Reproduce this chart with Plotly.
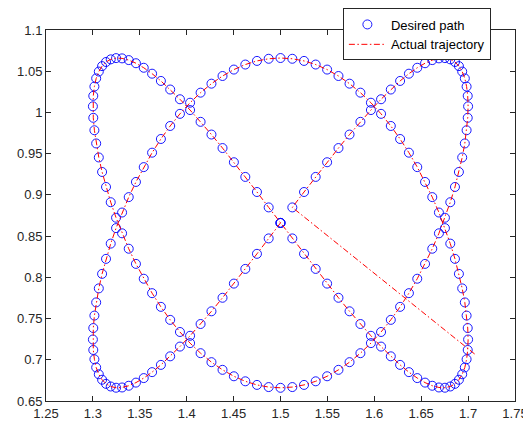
import plotly.graph_objects as go

# Desired path samples
desired_x = [
    1.5000, 1.5126, 1.5251, 1.5375, 1.5497, 1.5618, 1.5736, 1.5852, 1.5964, 1.6072,
    1.6176, 1.6275, 1.6369, 1.6458, 1.6541, 1.6618, 1.6689, 1.6753, 1.6810, 1.6860,
    1.6902, 1.6937, 1.6965, 1.6984, 1.6996, 1.7000, 1.6996, 1.6984, 1.6965, 1.6937,
    1.6902, 1.6860, 1.6810, 1.6753, 1.6689, 1.6618, 1.6541, 1.6458, 1.6369, 1.6275,
    1.6176, 1.6072, 1.5964, 1.5852, 1.5736, 1.5618, 1.5497, 1.5375, 1.5251, 1.5126,
    1.5000, 1.4874, 1.4749, 1.4625, 1.4503, 1.4382, 1.4264, 1.4148, 1.4036, 1.3928,
    1.3824, 1.3725, 1.3631, 1.3542, 1.3459, 1.3382, 1.3311, 1.3247, 1.3190, 1.3140,
    1.3098, 1.3063, 1.3035, 1.3016, 1.3004, 1.3000, 1.3004, 1.3016, 1.3035, 1.3063,
    1.3098, 1.3140, 1.3190, 1.3247, 1.3311, 1.3382, 1.3459, 1.3542, 1.3631, 1.3725,
    1.3824, 1.3928, 1.4036, 1.4148, 1.4264, 1.4382, 1.4503, 1.4625, 1.4749, 1.4874,
    1.5000, 1.5126, 1.5251, 1.5375, 1.5497, 1.5618, 1.5736, 1.5852, 1.5964, 1.6072,
    1.6176, 1.6275, 1.6369, 1.6458, 1.6541, 1.6618, 1.6689, 1.6753, 1.6810, 1.6860,
    1.6902, 1.6937, 1.6965, 1.6984, 1.6996, 1.7000, 1.6996, 1.6984, 1.6965, 1.6937,
    1.6902, 1.6860, 1.6810, 1.6753, 1.6689, 1.6618, 1.6541, 1.6458, 1.6369, 1.6275,
    1.6176, 1.6072, 1.5964, 1.5852, 1.5736, 1.5618, 1.5497, 1.5375, 1.5251, 1.5126,
    1.5000, 1.4874, 1.4749, 1.4625, 1.4503, 1.4382, 1.4264, 1.4148, 1.4036, 1.3928,
    1.3824, 1.3725, 1.3631, 1.3542, 1.3459, 1.3382, 1.3311, 1.3247, 1.3190, 1.3140,
    1.3098, 1.3063, 1.3035, 1.3016, 1.3004, 1.3000, 1.3004, 1.3016, 1.3035, 1.3063,
    1.3098, 1.3140, 1.3190, 1.3247, 1.3311, 1.3382, 1.3459, 1.3542, 1.3631, 1.3725,
    1.3824, 1.3928, 1.4036, 1.4148, 1.4264, 1.4382, 1.4503, 1.4625, 1.4749, 1.4874,
    1.5000,
]
desired_y = [
    0.8660, 0.8848, 0.9035, 0.9218, 0.9396, 0.9568, 0.9732, 0.9886, 1.0029, 1.0160,
    1.0278, 1.0382, 1.0470, 1.0542, 1.0597, 1.0635, 1.0656, 1.0659, 1.0644, 1.0612,
    1.0562, 1.0496, 1.0413, 1.0314, 1.0201, 1.0074, 0.9935, 0.9784, 0.9624, 0.9454,
    0.9278, 0.9096, 0.8911, 0.8723, 0.8534, 0.8347, 0.8163, 0.7983, 0.7808, 0.7642,
    0.7484, 0.7337, 0.7202, 0.7080, 0.6971, 0.6878, 0.6800, 0.6739, 0.6695, 0.6669,
    0.6660, 0.6669, 0.6695, 0.6739, 0.6800, 0.6878, 0.6971, 0.7080, 0.7202, 0.7337,
    0.7484, 0.7642, 0.7808, 0.7983, 0.8163, 0.8347, 0.8534, 0.8723, 0.8911, 0.9096,
    0.9278, 0.9454, 0.9624, 0.9784, 0.9935, 1.0074, 1.0201, 1.0314, 1.0413, 1.0496,
    1.0562, 1.0612, 1.0644, 1.0659, 1.0656, 1.0635, 1.0597, 1.0542, 1.0470, 1.0382,
    1.0278, 1.0160, 1.0029, 0.9886, 0.9732, 0.9568, 0.9396, 0.9218, 0.9035, 0.8848,
    0.8660, 0.8472, 0.8285, 0.8102, 0.7924, 0.7752, 0.7588, 0.7434, 0.7291, 0.7160,
    0.7042, 0.6938, 0.6850, 0.6778, 0.6723, 0.6685, 0.6664, 0.6661, 0.6676, 0.6708,
    0.6758, 0.6824, 0.6907, 0.7006, 0.7119, 0.7246, 0.7385, 0.7536, 0.7696, 0.7866,
    0.8042, 0.8224, 0.8409, 0.8597, 0.8786, 0.8973, 0.9157, 0.9337, 0.9512, 0.9678,
    0.9836, 0.9983, 1.0118, 1.0240, 1.0349, 1.0442, 1.0520, 1.0581, 1.0625, 1.0651,
    1.0660, 1.0651, 1.0625, 1.0581, 1.0520, 1.0442, 1.0349, 1.0240, 1.0118, 0.9983,
    0.9836, 0.9678, 0.9512, 0.9337, 0.9157, 0.8973, 0.8786, 0.8597, 0.8409, 0.8224,
    0.8042, 0.7866, 0.7696, 0.7536, 0.7385, 0.7246, 0.7119, 0.7006, 0.6907, 0.6824,
    0.6758, 0.6708, 0.6676, 0.6661, 0.6664, 0.6685, 0.6723, 0.6778, 0.6850, 0.6938,
    0.7042, 0.7160, 0.7291, 0.7434, 0.7588, 0.7752, 0.7924, 0.8102, 0.8285, 0.8472,
    0.8660,
]

# Actual trajectory: starts off the path, then tracks it
actual_start_x = [1.707]
actual_start_y = [0.707]

x_ticks = [1.25, 1.3, 1.35, 1.4, 1.45, 1.5, 1.55, 1.6, 1.65, 1.7, 1.75]
x_tick_labels = ["1.25", "1.3", "1.35", "1.4", "1.45", "1.5", "1.55", "1.6", "1.65", "1.7", "1.75"]
y_ticks = [0.65, 0.7, 0.75, 0.8, 0.85, 0.9, 0.95, 1.0, 1.05, 1.1]
y_tick_labels = ["0.65", "0.7", "0.75", "0.8", "0.85", "0.9", "0.95", "1", "1.05", "1.1"]

actual_x = actual_start_x + desired_x[1:]
actual_y = actual_start_y + desired_y[1:]

FONT = "Liberation Sans, Arial, Helvetica, sans-serif"
AX = "#262626"

fig = go.Figure()
fig.add_trace(go.Scatter(
    x=desired_x, y=desired_y, mode="markers", name="Desired path",
    marker=dict(symbol="circle-open", size=9, color="rgb(0,0,255)",
                line=dict(width=0.9, color="rgb(0,0,255)")),
))
fig.add_trace(go.Scatter(
    x=actual_x, y=actual_y, mode="lines", name="Actual trajectory",
    line=dict(color="rgb(255,0,0)", width=1, dash="6px,2.5px,1.5px,2.5px"),
))

axis_common = dict(
    showgrid=False, zeroline=False, showline=True, linecolor=AX, linewidth=1,
    mirror="ticks", ticks="inside", ticklen=5, tickwidth=1, tickcolor=AX,
    tickfont=dict(family=FONT, size=13, color=AX),
)
fig.update_xaxes(range=[1.25, 1.75], tickvals=x_ticks, ticktext=x_tick_labels, **axis_common)
fig.update_yaxes(range=[0.65, 1.1], tickvals=y_ticks, ticktext=y_tick_labels, **axis_common)

# page body has an 8px margin, so the figure is sized/offset to compensate
fig.update_layout(
    width=523, height=422,
    margin=dict(l=38, r=16, t=22, b=29, autoexpand=False),
    paper_bgcolor="white", plot_bgcolor="white",
    font=dict(family=FONT, size=13, color="black"),
    showlegend=True,
    legend=dict(
        x=0.633, y=1.058, xanchor="left", yanchor="top",
        bgcolor="white", bordercolor=AX, borderwidth=1,
        font=dict(family=FONT, size=13, color="black"),
        itemwidth=37, tracegroupgap=0,
    ),
)

fig.write_html("out.html")
